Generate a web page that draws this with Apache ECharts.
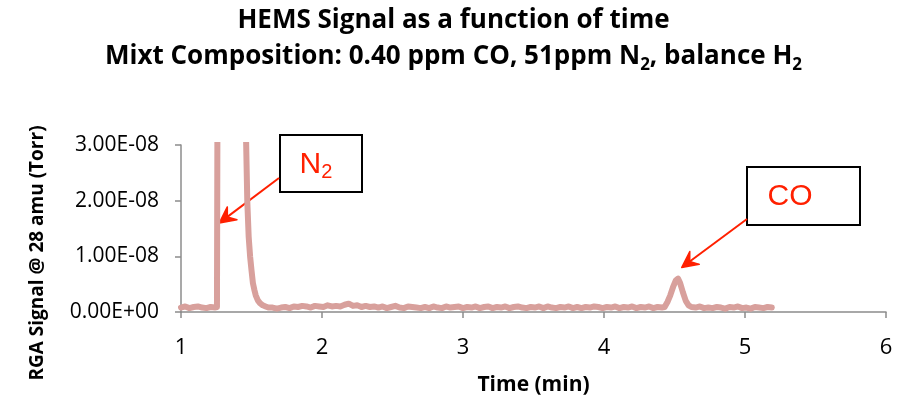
<!DOCTYPE html>
<html>
<head>
<meta charset="utf-8">
<script src="https://cdn.jsdelivr.net/npm/echarts@6/dist/echarts.min.js"></script>
<style>
    html, body { margin: 0; padding: 0; background: #fff; }
    #main { width: 907px; height: 402px; }
</style>
</head>
<body>
<div id="main"></div>
<script>
// time axis (min) of each RGA sample
var timeMin = [
    1.00, 1.03, 1.06, 1.09, 1.12, 1.15, 1.18, 1.21, 1.24, 1.255,
    1.265, 1.30, 1.40, 1.455, 1.46, 1.47, 1.48, 1.49, 1.50, 1.51, 1.52, 1.53, 1.545, 1.56, 1.58, 1.60, 1.62,
    1.65, 1.68, 1.71, 1.74, 1.77, 1.80, 1.83, 1.86, 1.89, 1.92, 1.95, 1.98,
    2.01, 2.04, 2.07, 2.10, 2.13, 2.16, 2.19, 2.22, 2.25, 2.28, 2.31, 2.34,
    2.37, 2.40, 2.43, 2.46, 2.49, 2.52, 2.55, 2.58, 2.61, 2.64, 2.67, 2.70,
    2.73, 2.76, 2.79, 2.82, 2.85, 2.88, 2.91, 2.94, 2.97, 3.00, 3.03, 3.06,
    3.09, 3.12, 3.15, 3.18, 3.21, 3.24, 3.27, 3.30, 3.33, 3.36, 3.39, 3.42,
    3.45, 3.48, 3.51, 3.54, 3.57, 3.60, 3.63, 3.66, 3.69, 3.72, 3.75, 3.78,
    3.81, 3.84, 3.87, 3.90, 3.93, 3.96, 3.99, 4.02, 4.05, 4.08, 4.11, 4.14,
    4.17, 4.20, 4.23, 4.26, 4.29, 4.32, 4.35, 4.38, 4.41,
    4.43, 4.45, 4.47, 4.49, 4.51, 4.525, 4.54, 4.56, 4.58, 4.60, 4.62,
    4.65, 4.68, 4.71, 4.74, 4.77, 4.80, 4.83, 4.86, 4.89, 4.92, 4.95, 4.98,
    5.01, 5.04, 5.07, 5.10, 5.13, 5.16, 5.19
];

// RGA signal @ 28 amu, in units of 1e-10 Torr (N2 peak goes off scale)
var signalE10 = [
    8, 10, 7, 9, 10, 8, 7, 9, 8, 9,
    1000, 1200, 1200, 1000, 330, 200, 135, 100, 75, 52, 40, 30, 21, 16, 12, 10, 8,
    8, 6, 8, 9, 7, 10, 9, 11, 10, 8, 11, 10,
    9, 12, 10, 11, 10, 13, 15, 11, 12, 9, 11, 9,
    10, 8, 10, 7, 9, 11, 8, 7, 10, 9, 8, 7,
    9, 7, 10, 8, 7, 10, 8, 9, 10, 7, 9, 8,
    10, 7, 9, 10, 7, 9, 8, 10, 7, 9, 10, 8,
    7, 9, 8, 10, 7, 10, 8, 7, 9, 8, 10, 7,
    9, 7, 9, 8, 10, 9, 7, 9, 8, 10, 7, 9,
    8, 10, 7, 9, 8, 10, 7, 9, 8,
    9, 18, 30, 45, 57, 60, 52, 35, 20, 12, 9,
    8, 10, 7, 8, 7, 9, 8, 6, 9, 8, 10, 7,
    8, 6, 9, 8, 7, 9, 8
];

var xMin = 1, xMax = 6, xStep = 1;
var yMin = 0, yMax = 3e-8, yStep = 1e-8;

// annotation targets, in data coordinates [time, signal]
var n2Target = [1.272, 1.6e-8];
var coTarget = [4.551, 0.8e-8];

var chartDom = document.getElementById('main');
var myChart = echarts.init(chartDom);
var option;

function sciLabel(v) {
    var s = Number(v).toExponential(2).toUpperCase();
    return s.replace(/E([+-])(\d+)$/, function (m, sign, d) {
        return 'E' + sign + (d.length < 2 ? '0' + d : d);
    });
}

var axisFont = 'Open Sans';

option = {
    animation: false,
    title: [
        {
            text: 'HEMS Signal as a function of time',
            left: 'center',
            top: 8,
            padding: 0,
            textStyle: { fontFamily: axisFont, fontWeight: 'bold', fontSize: 26, color: '#000' }
        },
        {
            text: 'Mixt Composition: 0.40 ppm CO, 51ppm N{s|2}, balance H{s|2}',
            left: 'center',
            top: 40,
            padding: 0,
            textStyle: {
                fontFamily: axisFont, fontWeight: 'bold', fontSize: 26, color: '#000', lineHeight: 34,
                rich: {
                    s: { fontFamily: axisFont, fontWeight: 'bold', fontSize: 17, lineHeight: 17, verticalAlign: 'bottom', color: '#000' }
                }
            }
        }
    ],
    grid: { left: 181, right: 21, top: 145, bottom: 90 },
    xAxis: {
        type: 'value',
        min: xMin,
        max: xMax,
        interval: xStep,
        name: 'Time (min)',
        nameLocation: 'middle',
        nameGap: 63,
        nameTextStyle: { fontFamily: axisFont, fontWeight: 'bold', fontSize: 21, color: '#000' },
        axisLine: { lineStyle: { color: '#8c8c8c', width: 1.5 } },
        axisTick: { show: true, length: 6, lineStyle: { color: '#8c8c8c', width: 1.5 } },
        axisLabel: { fontFamily: axisFont, fontSize: 22, color: '#000', margin: 25 },
        splitLine: { show: false }
    },
    yAxis: {
        type: 'value',
        min: yMin,
        max: yMax,
        interval: yStep,
        axisLine: { show: true, lineStyle: { color: '#8c8c8c', width: 1.5 } },
        axisTick: { show: true, length: 6, lineStyle: { color: '#8c8c8c', width: 1.5 } },
        axisLabel: { fontFamily: axisFont, fontSize: 21, color: '#000', margin: 22, formatter: sciLabel },
        splitLine: { show: false }
    },
    series: [
        {
            type: 'line',
            data: timeMin.map(function (t, i) { return [t, signalE10[i] * 1e-10]; }),
            showSymbol: false,
            clip: true,
            lineStyle: { color: '#d8a09c', width: 6, join: 'round', cap: 'round' }
        }
    ]
};

option && myChart.setOption(option);

function arrow(from, to, color) {
    var dx = to[0] - from[0], dy = to[1] - from[1];
    var len = Math.sqrt(dx * dx + dy * dy);
    var ux = dx / len, uy = dy / len;
    var px = -uy, py = ux;
    var hl = 16, hw = 8, notch = 10;
    var base = [to[0] - ux * hl, to[1] - uy * hl];
    var inner = [to[0] - ux * notch, to[1] - uy * notch];
    return [
        {
            type: 'line',
            shape: { x1: from[0], y1: from[1], x2: inner[0], y2: inner[1] },
            style: { stroke: color, lineWidth: 2 }
        },
        {
            type: 'polygon',
            shape: { points: [to, [base[0] + px * hw, base[1] + py * hw], inner, [base[0] - px * hw, base[1] - py * hw]] },
            style: { fill: color, stroke: color, lineWidth: 1.5, lineJoin: 'round' }
        }
    ];
}

var red = '#ff2000';
var n2Tip = myChart.convertToPixel({ gridIndex: 0 }, n2Target);
var coTip = myChart.convertToPixel({ gridIndex: 0 }, coTarget);

var graphics = [
    {
        type: 'text',
        x: 38,
        y: 253,
        rotation: Math.PI / 2,
        style: {
            text: 'RGA Signal @ 28 amu (Torr)',
            fontFamily: axisFont, fontWeight: 'bold', fontSize: 19, fill: '#000',
            align: 'center', verticalAlign: 'middle'
        }
    },
    {
        type: 'rect',
        shape: { x: 280, y: 135, width: 82, height: 57 },
        style: { fill: '#fff', stroke: '#000', lineWidth: 2 }
    },
    {
        type: 'text',
        x: 316,
        y: 165,
        style: {
            text: '{n|N}{s|2}',
            align: 'center', verticalAlign: 'middle',
            rich: {
                n: { fontFamily: 'Liberation Sans', fontSize: 30, fill: red, lineHeight: 34 },
                s: { fontFamily: 'Liberation Sans', fontSize: 20, fill: red, lineHeight: 20, verticalAlign: 'bottom' }
            }
        }
    },
    {
        type: 'rect',
        shape: { x: 747, y: 167, width: 113, height: 58 },
        style: { fill: '#fff', stroke: '#000', lineWidth: 2 }
    },
    {
        type: 'text',
        x: 790,
        y: 197,
        style: {
            text: 'CO',
            fontFamily: 'Liberation Sans', fontSize: 30, fill: red,
            align: 'center', verticalAlign: 'middle'
        }
    }
].concat(arrow([279, 178], n2Tip, red), arrow([747, 219], coTip, red));

myChart.setOption({ graphic: graphics });
</script>
</body>
</html>
